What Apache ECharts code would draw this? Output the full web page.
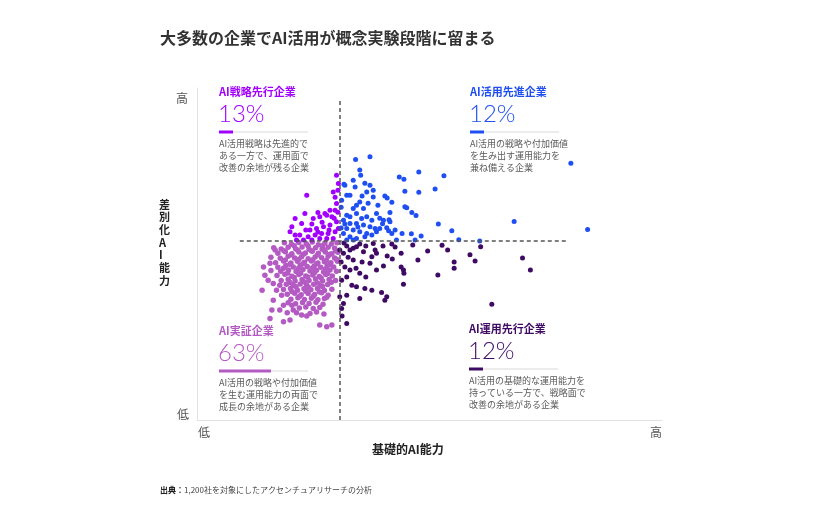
<!DOCTYPE html>
<html>
	<head>
		<meta charset="utf-8" />
		<title>AI maturity</title>
		<script src="https://cdn.jsdelivr.net/npm/echarts@6/dist/echarts.min.js"></script>
		<style>
			body { margin: 0; background: #fff; }
		</style>
	</head>
	<body>
		<div id="main" style="width:825px;height:510px;"></div>
	</body>
	<script type="text/javascript">

	// scores: x = 基礎的AI能力, y = 差別化AI能力 (0 = 低, 100 = 高)
	var xSplit = 30.6;
	var ySplit = 53.9;

	var groupNames = ['AI戦略先行企業', 'AI活用先進企業', 'AI実証企業', 'AI運用先行企業'];
	var groupShares = ['13%', '12%', '63%', '12%'];
	var groupNotes = [
		['AI活用戦略は先進的で', 'ある一方で、運用面で', '改善の余地が残る企業'],
		['AI活用の戦略や付加価値', 'を生み出す運用能力を', '兼ね備える企業'],
		['AI活用の戦略や付加価値', 'を生む運用能力の両面で', '成長の余地がある企業'],
		['AI活用の基礎的な運用能力を', '持っている一方で、戦略面で', '改善の余地がある企業']
	];

	// AI実証企業 (低・低)
	var pocCompanies = [
		[14.3,46.1],[14.6,43.6],[15.7,47.2],[16.8,51.2],[15.3,42.1],[16.4,41.1],[17.1,39.1],[16.4,36.1],
		[18.2,37.6],[18.6,34.6],[17.8,33.1],[20.4,34.6],[20.7,33.1],[20.0,30.1],[22.5,31.6],[18.6,29.6],
		[16.1,33.1],[19.4,32.3],[15.7,30.6],[23.6,31.3],[26.4,28.6],[27.9,28.1],[24.3,32.1],[29.0,28.6],[14.0,39.1],
		[18.8,53.4],[20.3,52.9],[21.9,53.5],[23.5,53.1],[24.8,53.6],[26.1,52.8],[27.5,53.3],[28.9,53.0],[30.1,53.4],
		[16.5,51.9],[18.1,51.5],[19.6,52.0],[21.2,51.6],[22.6,52.1],[24.1,51.4],[25.5,51.9],[26.9,51.5],[28.2,52.0],[29.6,51.7],
		[17.4,50.2],[19.0,50.7],[20.4,50.1],[21.9,50.6],[23.3,50.3],[24.8,50.8],[26.1,50.2],[27.6,50.6],[29.0,50.1],[30.3,50.5],
		[15.9,49.0],[17.9,48.7],[19.6,49.3],[21.0,48.8],[22.5,49.2],[23.9,48.6],[25.4,49.1],[26.8,48.9],[28.2,49.3],[29.6,48.8],
		[16.9,47.4],[18.6,47.9],[20.2,47.3],[21.6,47.8],[23.1,47.5],[24.6,47.9],[26.0,47.3],[27.4,47.7],[28.8,47.4],[30.2,47.8],
		[17.4,46.0],[19.1,46.5],[20.7,46.1],[22.2,46.6],[23.7,46.2],[25.2,46.4],[26.6,46.0],[28.0,46.5],[29.4,46.1],
		[15.9,45.0],[18.0,44.8],[19.7,45.2],[21.3,44.7],[22.8,45.3],[24.3,44.9],[25.7,45.1],[27.2,44.6],[28.6,45.2],[30.0,44.8],
		[17.2,43.5],[18.9,43.9],[20.4,43.3],[21.9,43.8],[23.4,43.4],[24.9,43.7],[26.3,43.2],[27.7,43.8],[29.1,43.4],
		[18.1,42.0],[19.6,42.4],[21.1,41.9],[22.6,42.3],[24.1,42.0],[25.5,42.5],[27.0,41.9],[28.4,42.3],[29.8,42.0],
		[17.8,40.6],[19.2,40.9],[20.7,40.5],[22.2,41.0],[23.6,40.6],[25.1,40.9],[26.6,40.4],[28.1,40.8],
		[18.6,39.3],[20.1,39.6],[21.6,39.1],[23.0,39.5],[24.5,39.2],[25.9,39.6],[27.4,39.0],[29.0,39.4],
		[19.4,37.9],[21.0,38.2],[22.4,37.7],[23.9,38.1],[25.3,37.8],[26.8,38.3],[28.2,37.6],
		[20.2,36.4],[21.7,36.8],[23.1,36.3],[24.6,36.7],[26.0,36.2],[27.4,36.6],
		[19.6,35.3],[21.2,35.0],[22.7,35.4],[24.1,35.1],[25.6,35.5],[27.1,34.9],
		[22.0,33.7],[23.4,34.0],[25.0,33.6],[26.4,33.9],
		[21.4,32.3],[25.7,32.5],[27.3,31.9],
		[20.9,52.5],[23.9,52.4],[27.0,52.5],
		[18.7,51.0],[21.6,51.2],[24.6,51.0],[27.3,51.2],[29.8,51.0],
		[20.3,49.8],[22.9,49.9],[25.9,49.7],[28.6,49.9],
		[19.0,48.2],[21.9,48.4],[24.9,48.3],[27.8,48.1],[30.0,48.4],
		[20.0,46.9],[22.8,47.1],[25.7,47.0],[28.5,46.8],
		[18.6,45.7],[21.8,45.6],[24.8,45.8],[27.6,45.5],
		[19.5,44.3],[22.3,44.2],[25.3,44.4],[28.1,44.1],
		[20.9,42.9],[23.8,43.1],[26.7,42.8],
		[20.0,41.4],[23.1,41.6],[25.9,41.3],[28.9,41.5],
		[21.3,40.1],[24.0,40.0],[27.0,40.2],
		[20.4,38.7],[23.4,38.8],[26.3,38.6],
		[22.0,37.2],[25.0,37.3],[27.9,37.0]
	];

	// AI戦略先行企業 (低・高)
	var strategyLeaders = [
		[23.6,67.7],[29.3,68.7],[30.0,73.7],[30.4,71.2],[21.1,60.7],[23.2,62.2],[22.5,59.2],[25.0,60.7],
		[26.4,61.2],[27.9,61.7],[29.0,61.2],[29.7,63.2],[30.0,65.2],[29.7,67.1],[24.3,57.2],[25.7,57.7],
		[27.2,58.2],[28.6,58.7],[30.0,59.7],[22.1,55.7],[23.9,55.2],[25.4,55.7],[26.8,56.2],[28.2,56.2],
		[29.7,56.7],[30.4,57.7],[21.4,54.2],[22.9,54.2],[24.7,54.2],[26.4,54.7],[27.9,54.7],[29.3,54.7],
		[20.4,58.2],[20.0,56.7],[21.1,55.7],[26.0,62.5],[27.5,62.2],[28.6,63.2],[26.9,59.6],[24.7,59.0],
		[30.3,62.6],[29.5,60.8],[28.4,57.2],[26.0,56.6],[23.4,57.2],[30.3,69.2]
	];

	// AI運用先行企業 (高・低)
	var operationLeaders = [
		[40.0,52.4],[41.9,53.0],[52.7,52.6],[53.9,51.2],[49.6,50.9],[61.0,52.2],[40.9,49.4],[42.0,48.5],
		[43.9,50.2],[58.7,49.8],[59.8,47.9],[55.3,47.6],[55.3,45.7],[70.0,48.8],[71.7,45.2],[40.1,46.4],
		[43.9,46.1],[44.4,45.2],[44.5,44.2],[44.4,40.9],[51.8,43.7],[39.7,38.4],[40.4,36.1],[63.4,34.9],
		[32.2,52.4],[32.9,51.2],[33.6,51.7],[34.3,52.2],[31.5,50.2],[32.5,49.0],[33.6,48.2],[31.8,46.1],
		[32.9,45.2],[34.2,45.7],[35.0,44.2],[32.2,43.1],[31.1,42.1],[33.3,40.6],[34.3,40.1],[36.1,39.6],
		[32.2,37.6],[35.0,36.6],[30.7,37.1],[31.5,35.1],[31.1,33.6],[37.9,53.2],[38.3,51.2],[37.6,49.2],
		[35.8,50.7],[37.2,47.2],[38.6,45.2],[40.8,37.1],[38.6,50.2],[32.2,29.1],[30.7,51.2],[31.6,53.3],
		[35.0,53.0],[36.3,52.4],[31.0,47.6],[35.5,47.6],[36.3,43.1],[37.6,39.1],[42.6,52.1],[46.4,52.7],
		[47.5,48.2],[31.2,31.3]
	];

	// AI活用先進企業 (高・高)
	var advancedUsers = [
		[80.4,77.3],[84.0,57.4],[68.2,59.8],[47.7,74.7],[53.1,73.6],[43.5,73.2],[44.5,72.5],[51.2,69.6],
		[44.7,68.9],[47.7,68.6],[40.4,67.5],[40.9,66.9],[41.9,65.6],[44.7,64.2],[45.1,63.9],[46.2,62.5],
		[47.1,61.6],[41.3,60.3],[39.9,59.1],[40.8,57.9],[41.2,57.0],[51.9,59.0],[54.8,57.0],[41.9,56.2],
		[44.1,56.2],[46.1,56.1],[48.2,55.4],[56.3,54.3],[60.8,53.9],[46.9,54.2],[42.9,54.2],[42.6,57.2],
		[41.5,59.7],[40.1,60.2],[41.5,62.5],
		[34.1,78.5],[37.2,79.3],[35.0,75.3],[35.2,73.7],[33.6,72.2],[36.1,71.3],[37.2,70.7],[37.9,69.2],
		[36.5,68.7],[34.0,70.2],[32.2,67.7],[32.9,67.7],[31.1,66.2],[35.0,65.7],[37.9,67.2],[34.3,64.7],
		[33.6,63.7],[35.8,63.7],[32.2,61.7],[32.9,61.2],[34.3,62.2],[35.4,60.7],[36.5,61.2],[37.6,60.2],
		[38.6,62.2],[31.5,60.2],[32.9,59.2],[34.3,59.2],[35.8,58.7],[37.2,58.2],[38.3,57.7],[39.3,57.7],
		[32.2,57.7],[33.6,57.2],[35.0,56.7],[36.5,56.2],[31.5,56.2],[32.9,55.2],[34.3,54.7],[36.1,55.2],
		[37.6,55.7],[38.6,56.7],[32.2,54.2],[33.6,54.2],[31.0,64.1],[31.6,71.0],[31.8,70.7],[31.0,57.8],
		[35.5,67.5],[36.8,65.3],[38.9,64.7],[39.3,60.8],[34.6,58.1],[31.8,59.0]
	];

	var groupColors = ['#a100ff', '#1f4ff2', '#b45ac3', '#3f0a63'];
	// [left, top of group title] in px, and width of the coloured part of the bar
	var boxLayout = [[219, 93, 14], [470, 93, 14], [219, 332, 52], [469, 330, 14]];

	var jp = '"Noto Sans CJK JP", "Noto Sans", sans-serif';

	var graphics = [];
	for (var i = 0; i < groupNames.length; i++) {
		var bx = boxLayout[i][0], by = boxLayout[i][1];
		graphics.push({
			type: 'text', left: bx, top: by - 7,
			style: { text: groupNames[i], fill: groupColors[i], font: 'bold 11px ' + jp }
		});
		graphics.push({
			type: 'text', left: bx - 1, top: by + 9,
			style: { text: groupShares[i], fill: groupColors[i], font: '300 24px Lato, "Noto Sans", sans-serif' }
		});
		graphics.push({
			type: 'rect', shape: { x: bx, y: by + 38.5, width: 89, height: 1 },
			style: { fill: '#d9d9d9' }
		});
		graphics.push({
			type: 'rect', shape: { x: bx, y: by + 37.5, width: boxLayout[i][2], height: 3 },
			style: { fill: groupColors[i] }
		});
		graphics.push({
			type: 'text', left: bx, top: by + 44,
			style: { text: groupNotes[i].join('\n'), fill: '#5a5a5a', font: '9px ' + jp, lineHeight: 12.2 }
		});
	}

	graphics.push(
		{ type: 'text', left: 160, top: 30, style: { text: '大多数の企業でAI活用が概念実験段階に留まる', fill: '#333', font: 'bold 16px ' + jp } },
		{ type: 'text', left: 176, top: 92, style: { text: '高', fill: '#555', font: '12px ' + jp } },
		{ type: 'text', left: 177, top: 408, style: { text: '低', fill: '#555', font: '12px ' + jp } },
		{ type: 'text', left: 198, top: 426, style: { text: '低', fill: '#555', font: '12px ' + jp } },
		{ type: 'text', left: 650, top: 426, style: { text: '高', fill: '#555', font: '12px ' + jp } },
		{ type: 'text', left: 159, top: 198, style: { text: '差\n別\n化\nA\nI\n能\n力', fill: '#222', font: 'bold 11px ' + jp, lineHeight: 12.7, align: 'center' } },
		{ type: 'text', left: 372, top: 443, style: { text: '基礎的AI能力', fill: '#222', font: 'bold 12px ' + jp } },
		{ type: 'text', left: 160, top: 486, style: {
			text: '{b|出典：}1,200社を対象にしたアクセンチュアリサーチの分析',
			fill: '#444', font: '8px ' + jp,
			rich: { b: { fontWeight: 'bold', fontSize: 8, fontFamily: jp, fill: '#222' } }
		} }
	);

	var myChart = echarts.init(document.getElementById('main'), null, { renderer: 'canvas' });

	function dots(name, data, color, size, extra) {
		var s = {
			name: name,
			type: 'scatter',
			data: data,
			symbolSize: size,
			itemStyle: { color: color, opacity: 1 },
			silent: true
		};
		if (extra) {
			for (var k in extra) s[k] = extra[k];
		}
		return s;
	}

	var option = {
		backgroundColor: '#fff',
		animation: false,
		grid: { left: 197, top: 88, width: 465, height: 332 },
		xAxis: {
			type: 'value', min: 0, max: 100,
			axisLine: { show: true, lineStyle: { color: '#e2e2e2', width: 1 } },
			axisTick: { show: false },
			axisLabel: { show: false },
			splitLine: { show: false }
		},
		yAxis: {
			type: 'value', min: 0, max: 100,
			axisLine: { show: true, lineStyle: { color: '#e2e2e2', width: 1 } },
			axisTick: { show: false },
			axisLabel: { show: false },
			splitLine: { show: false }
		},
		series: [
			dots(groupNames[2], pocCompanies, groupColors[2], 5.5, {
				markLine: {
					silent: true,
					symbol: 'none',
					label: { show: false },
					lineStyle: { color: '#555', type: [4, 3], width: 1.5 },
					data: [
						[{ coord: [xSplit, 0] }, { coord: [xSplit, 97] }],
						[{ coord: [9.2, ySplit] }, { coord: [79.6, ySplit] }]
					]
				}
			}),
			dots(groupNames[3], operationLeaders, groupColors[3], 5),
			dots(groupNames[0], strategyLeaders, groupColors[0], 5),
			dots(groupNames[1], advancedUsers, groupColors[1], 5)
		],
		graphic: graphics
	};
	myChart.setOption(option);

	</script>
</html>
